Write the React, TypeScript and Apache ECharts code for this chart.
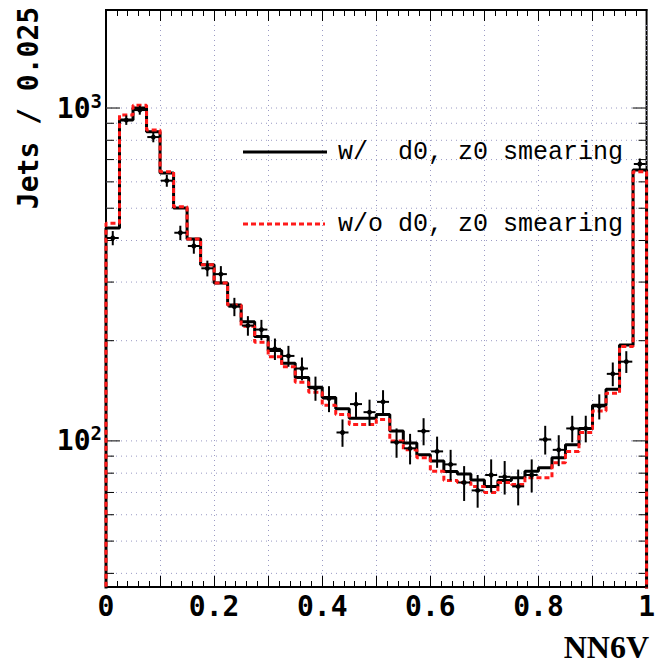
import React, { useEffect, useRef } from "react";
import * as echarts from "echarts";

// ---- data (40 bins of width 0.025 on NN6V) ----
const binWidth = 0.025;
const withSmearing = [
  436, 920, 1000, 849, 638, 501, 404, 338, 298, 256,
  228, 206, 187, 171, 155, 145, 135, 125, 117, 117,
  120, 107, 98.6, 90.8, 87, 80.9, 79.5, 76.3, 73, 76,
  77.5, 81, 83, 89, 97.3, 109, 128, 143, 194, 651,
];
const withoutSmearing = [
  451, 953, 1020, 859, 644, 505, 404, 338, 298, 256,
  221, 198, 179, 167, 150, 140, 128, 120, 112, 112,
  116, 100, 94, 89, 81, 76, 75, 73, 70, 75,
  74, 77.5, 77.5, 86, 93, 106, 123, 139, 192, 644,
];
const dataPoints = [
  407, 920, 986, 818, 605, 422, 385, 330, 317, 253,
  222, 216, 189, 180, 165, 144, 134, 106, 129, 122,
  131, 99, 95, 107, 93, 85, 75, 71, 79, 78,
  73, 79, 101, 94, 109, 109, 127, 159, 173, 679,
];
const dataErrors = [
  20, 30, 31, 29, 25, 21, 20, 18, 18, 16,
  15, 15, 14, 13, 13, 12, 12, 10, 11, 11,
  11, 10, 10, 10, 10, 9, 9, 8, 9, 9,
  9, 9, 10, 10, 10, 10, 11, 13, 13, 26,
];
const xTickLabels: Record<string, string> = {
  "0": "0", "0.2": "0.2", "0.4": "0.4", "0.6": "0.6", "0.8": "0.8", "1": "1",
};
const yTickLabels: Record<string, string> = { "100": "2", "1000": "3" };
const yGridValues = [40, 50, 60, 70, 80, 90, 100, 200, 300, 400, 500, 600, 700, 800, 900, 1000];
const seriesNames = ["w/  d0, z0 smearing", "w/o d0, z0 smearing"];
const xTitle = "NN6V";
const yTitle = "Jets / 0.025";

function histLine(vals: number[]) {
  const pts: number[][] = [[0, 1]];
  vals.forEach((v, i) => pts.push([i * binWidth, v]));
  pts.push([vals.length * binWidth, vals[vals.length - 1]]);
  pts.push([vals.length * binWidth, 1]);
  return pts;
}

export default function App() {
  const ref = useRef<HTMLDivElement>(null);
  useEffect(() => {
    if (!ref.current) return;
    const chart = echarts.init(ref.current, undefined, { renderer: "svg" });
    const gridLeft = 106, gridTop = 10, gridRight = 2, gridBottom = 77;
    const tickFont = '"DejaVu Sans Mono", monospace';
    const gridColor = "#9a9ac4";
    const gridDash = [1, 4];
    const legendFont = '25px "Liberation Mono", monospace';
    chart.setOption({
      animation: false,
      backgroundColor: "#fff",
      grid: {
        left: gridLeft, top: gridTop, right: gridRight, bottom: gridBottom,
        show: true, borderColor: "#000", borderWidth: 2, backgroundColor: "transparent",
      },
      xAxis: [
        {
          type: "value", min: 0, max: 1, interval: 0.1, position: "bottom",
          axisLine: { lineStyle: { color: "#000", width: 2 } },
          axisTick: { inside: true, length: 11, lineStyle: { color: "#000", width: 1 } },
          minorTick: { show: true, splitNumber: 5, length: 6, lineStyle: { color: "#000", width: 1 } },
          splitLine: { show: true, lineStyle: { color: gridColor, width: 1, type: gridDash } },
          axisLabel: {
            margin: 5,
            fontFamily: tickFont, fontWeight: "bold", fontSize: 28, color: "#000",
            formatter: (v: number) => xTickLabels[String(Math.round(v * 10) / 10)] ?? "",
          },
        },
        {
          type: "value", min: 0, max: 1, interval: 0.1, position: "top",
          axisLine: { lineStyle: { color: "#000", width: 2 } },
          axisTick: { inside: true, length: 11, lineStyle: { color: "#000", width: 1 } },
          minorTick: { show: true, splitNumber: 5, length: 6, lineStyle: { color: "#000", width: 1 } },
          splitLine: { show: false },
          axisLabel: { show: false },
        },
      ],
      yAxis: {
        type: "log", logBase: 10, min: 36.4, max: 1970,
        axisLine: { lineStyle: { color: "#000", width: 2 } },
        axisTick: { show: false },
        splitLine: { show: false },
        axisLabel: {
          margin: 4,
          formatter: (v: number) => {
            const s = yTickLabels[String(Math.round(v))];
            return s ? "{a|10}{b|" + s + "}" : "";
          },
          rich: {
            a: { fontFamily: tickFont, fontWeight: "bold", fontSize: 28, color: "#000", lineHeight: 34 },
            b: { fontFamily: tickFont, fontWeight: "bold", fontSize: 19, color: "#000", verticalAlign: "top", lineHeight: 18 },
          },
        },
      },
      graphic: [
        {
          type: "text", x: 28, y: 108, rotation: Math.PI / 2,
          style: { text: yTitle, font: 'bold 28px "DejaVu Sans Mono", monospace', fill: "#000", textAlign: "center", textVerticalAlign: "middle" },
        },
        {
          type: "text", x: 649, y: 647,
          style: { text: xTitle, font: 'bold 32px "Liberation Serif", serif', fill: "#000", textAlign: "right", textVerticalAlign: "middle" },
        },
        // legend
        { type: "line", z: 10, shape: { x1: 243, y1: 152, x2: 327, y2: 152 }, style: { stroke: "#000", lineWidth: 3 } },
        { type: "text", z: 10, x: 338, y: 152, style: { text: seriesNames[0], font: legendFont, fill: "#000", textAlign: "left", textVerticalAlign: "middle" } },
        { type: "line", z: 10, shape: { x1: 243, y1: 224, x2: 325, y2: 224 }, style: { stroke: "#ff1a1a", lineWidth: 3, lineDash: [5, 3] } },
        { type: "text", z: 10, x: 338, y: 224, style: { text: seriesNames[1], font: legendFont, fill: "#000", textAlign: "left", textVerticalAlign: "middle" } },
      ],
      series: [
        {
          type: "custom", name: "grid", z: 1, silent: true, clip: true,
          encode: { x: 0, y: 1 },
          data: yGridValues.map((v) => [0, v]),
          renderItem: (params: any, api: any) => {
            const v = api.value(1);
            const l = api.coord([0, v]);
            const r = api.coord([1, v]);
            const major = Math.abs(Math.log10(v) - Math.round(Math.log10(v))) < 1e-6;
            const len = major ? 14 : 8;
            return {
              type: "group",
              children: [
                { type: "line", shape: { x1: l[0], y1: l[1], x2: r[0], y2: r[1] }, style: { stroke: gridColor, lineWidth: 1, lineDash: gridDash } },
                { type: "line", shape: { x1: l[0], y1: l[1], x2: l[0] + len, y2: l[1] }, style: { stroke: "#000", lineWidth: 1 } },
                { type: "line", shape: { x1: r[0], y1: r[1], x2: r[0] - len, y2: r[1] }, style: { stroke: "#000", lineWidth: 1 } },
              ],
            };
          },
        },
        {
          type: "line", name: seriesNames[0], step: "end", symbol: "none", z: 3,
          data: histLine(withSmearing),
          lineStyle: { color: "#000", width: 3 },
          itemStyle: { color: "#000" },
        },
        {
          type: "line", name: seriesNames[1], step: "end", symbol: "none", z: 4,
          data: histLine(withoutSmearing),
          lineStyle: { color: "#ff1a1a", width: 3, type: [5, 3] },
          itemStyle: { color: "#ff1a1a" },
        },
        {
          type: "custom", name: "data", z: 5, clip: true,
          encode: { x: 0, y: 1 },
          data: dataPoints.map((v, i) => [(i + 0.5) * binWidth, v, dataErrors[i]]),
          renderItem: (params: any, api: any) => {
            const x = api.value(0), y = api.value(1), e = api.value(2);
            const c = api.coord([x, y]);
            const lo = api.coord([x, y - e]);
            const hi = api.coord([x, y + e]);
            return {
              type: "group",
              children: [
                { type: "line", shape: { x1: c[0], y1: lo[1], x2: c[0], y2: hi[1] }, style: { stroke: "#000", lineWidth: 2 } },
                { type: "line", shape: { x1: c[0] - 6, y1: c[1], x2: c[0] + 6, y2: c[1] }, style: { stroke: "#000", lineWidth: 2 } },
                { type: "circle", shape: { cx: c[0], cy: c[1], r: 2.5 }, style: { fill: "#000" } },
              ],
            };
          },
        },
      ],
    });
    return () => chart.dispose();
  }, []);
  return <div ref={ref} style={{ position: "fixed", left: 0, top: 0, width: 658, height: 664 }} />;
}
